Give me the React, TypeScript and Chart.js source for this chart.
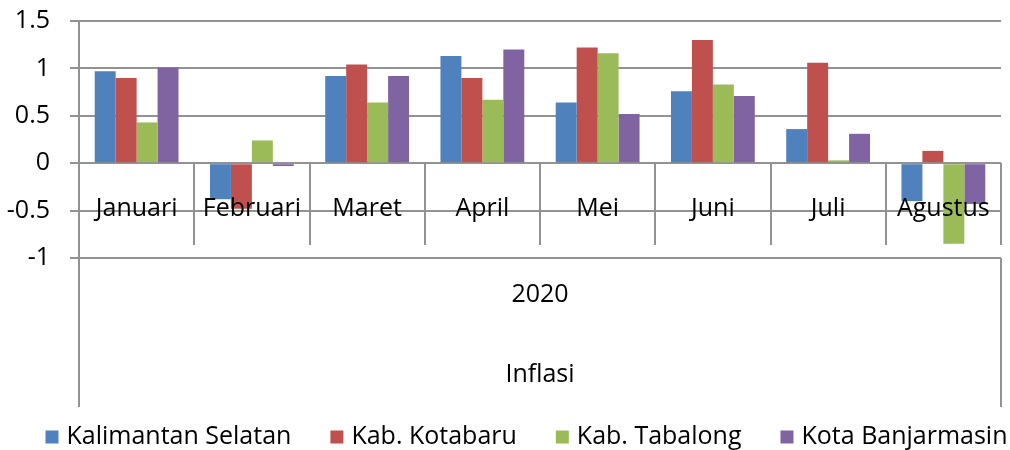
import React, { useEffect, useRef } from 'react';
import { Chart, registerables } from 'chart.js';

Chart.register(...registerables);

const months = ['Januari', 'Februari', 'Maret', 'April', 'Mei', 'Juni', 'Juli', 'Agustus'];
const yearLabels = ['2020'];
const groupTitle = 'Inflasi';
const seriesNames = ['Kalimantan Selatan', 'Kab. Kotabaru', 'Kab. Tabalong', 'Kota Banjarmasin'];
const kalimantanSelatan = [0.97, -0.38, 0.92, 1.13, 0.64, 0.76, 0.36, -0.4];
const kabKotabaru = [0.9, -0.48, 1.04, 0.9, 1.22, 1.3, 1.06, 0.13];
const kabTabalong = [0.43, 0.24, 0.64, 0.67, 1.16, 0.83, 0.03, -0.85];
const kotaBanjarmasin = [1.01, -0.03, 0.92, 1.2, 0.52, 0.71, 0.31, -0.43];
const yTicks = [-1, -0.5, 0, 0.5, 1, 1.5];
const seriesColors = ['#4F81BD', '#C0504D', '#9BBB59', '#8064A2'];

const GRID = '#929292';
const FAMILY = "'Open Sans', sans-serif";
const FONT = { family: FAMILY, size: 25 };
const TEXT = '#000';

// Excel-style legend: square swatch, small gap, wide gap between entries
const legendPlugin = {
  id: 'excelLegend',
  afterDraw(chart: any) {
    const ctx = chart.ctx;
    const box = 13;
    const gapText = 8;
    const gapItem = 39;
    const cy = 437;
    ctx.save();
    ctx.font = `${FONT.size}px ${FAMILY}`;
    ctx.textBaseline = 'middle';
    ctx.textAlign = 'left';
    const items = chart.data.datasets.map((ds: any) => ({
      label: ds.label as string,
      color: ds.backgroundColor as string,
      w: ctx.measureText(ds.label).width,
    }));
    const total =
      items.reduce((s: number, it: any) => s + box + gapText + it.w, 0) + gapItem * (items.length - 1);
    const center = (chart.width / 2 + (chart.chartArea.left + chart.chartArea.right) / 2) / 2 + 4;
    let x = center - total / 2;
    items.forEach((it: any) => {
      ctx.fillStyle = it.color;
      ctx.fillRect(x, cy - box / 2, box, box);
      ctx.fillStyle = TEXT;
      ctx.fillText(it.label, x + box + gapText, cy);
      x += box + gapText + it.w + gapItem;
    });
    ctx.restore();
  },
};

export default function App() {
  const ref = useRef<HTMLCanvasElement | null>(null);

  useEffect(() => {
    document.body.style.margin = '0';
    const canvas = ref.current;
    if (!canvas) return;
    const values = [kalimantanSelatan, kabKotabaru, kabTabalong, kotaBanjarmasin];
    const chart = new Chart(canvas, {
      type: 'bar',
      data: {
        labels: months,
        datasets: seriesNames.map((name, i) => ({
          label: name,
          data: values[i],
          backgroundColor: seriesColors[i],
          borderWidth: 0,
          barPercentage: 1,
          categoryPercentage: 4 / 5.5,
        })),
      },
      plugins: [legendPlugin],
      options: {
        responsive: false,
        animation: false,
        layout: { padding: { top: 21, right: 9, bottom: 0, left: 0 } },
        plugins: {
          tooltip: { enabled: false },
          legend: { display: false },
        },
        scales: {
          y: {
            min: -1,
            max: 1.5,
            position: 'left',
            afterBuildTicks: (s: any) => {
              s.ticks = yTicks.map((v) => ({ value: v }));
            },
            afterFit: (s: any) => {
              s.width = 79;
              s.paddingTop = 15;
              s.paddingBottom = 15;
            },
            grid: { color: GRID, lineWidth: 2, tickLength: 9, drawTicks: true },
            border: { display: true, color: GRID, width: 2 },
            ticks: {
              padding: 20,
              font: FONT,
              color: TEXT,
              callback: (v: any) => String(v),
            },
          },
          x: {
            type: 'category',
            position: { y: 0 } as any,
            offset: true,
            grid: {
              drawOnChartArea: false,
              drawTicks: true,
              tickLength: 82,
              color: GRID,
              lineWidth: 2,
              offset: true,
              z: 1,
            },
            border: { display: false },
            ticks: {
              padding: -51,
              font: FONT,
              color: TEXT,
              maxRotation: 0,
              autoSkip: false,
              z: 1,
            },
          },
          x2: {
            type: 'category',
            labels: yearLabels,
            position: 'bottom',
            offset: true,
            grid: {
              drawOnChartArea: false,
              drawTicks: true,
              tickLength: 149,
              color: GRID,
              lineWidth: 2,
              offset: true,
            },
            border: { display: false },
            ticks: { padding: -127, font: FONT, color: TEXT, maxRotation: 0 },
            title: {
              display: true,
              text: groupTitle,
              font: FONT,
              color: TEXT,
              padding: { top: 0, bottom: 60 },
            },
            afterFit: (s: any) => {
              s.height = 192;
            },
          },
        },
      } as any,
    });
    return () => chart.destroy();
  }, []);

  return (
    <div style={{ width: 1010, height: 450 }}>
      <canvas ref={ref} width={1010} height={450} />
    </div>
  );
}
